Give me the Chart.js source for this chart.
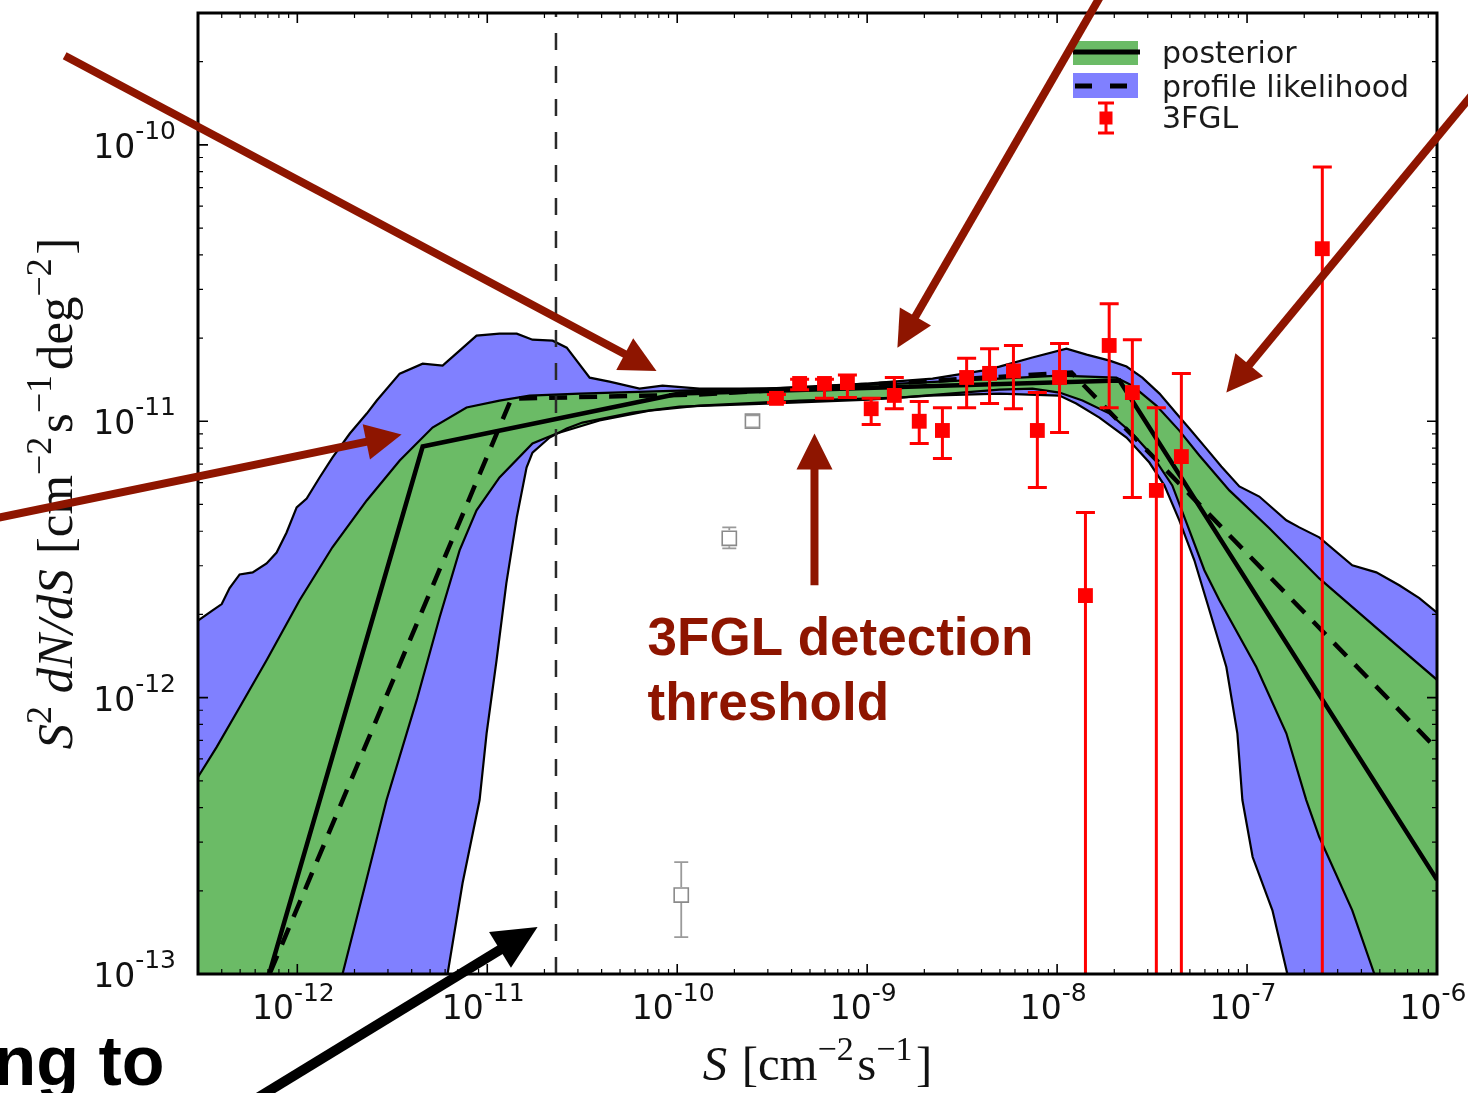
<!DOCTYPE html>
<html>
<head>
<meta charset="utf-8">
<script src="https://cdn.jsdelivr.net/npm/chart.js@4.4.1/dist/chart.umd.min.js"></script>
<style>
  html, body { margin: 0; padding: 0; background: #fff; }
  #chart { display: block; }
</style>
</head>
<body>
<canvas id="chart" width="1468" height="1093"></canvas>
<script>
// profile likelihood band (blue)
const profileUpperS = [3.0e-13, 3.58e-13, 4.00e-13, 4.40e-13, 4.97e-13, 5.82e-13, 6.89e-13, 7.78e-13, 8.78e-13, 9.92e-13,
    1.12e-12, 1.31e-12, 1.53e-12, 1.89e-12, 2.32e-12, 2.62e-12, 3.46e-12, 4.57e-12, 5.82e-12, 7.15e-12,
    8.78e-12, 1.16e-11, 1.43e-11, 1.73e-11, 2.21e-11, 2.62e-11, 3.46e-11, 4.40e-11, 6.33e-11, 8.37e-11,
    1.31e-10, 2.95e-10, 9.92e-10, 2.21e-9, 4.04e-9, 4.97e-9, 7.41e-9, 1.12e-8, 1.43e-8, 1.89e-8,
    2.32e-8, 2.81e-8, 3.46e-8, 4.25e-8, 4.97e-8, 6.11e-8, 7.32e-8, 9.11e-8, 1.16e-7, 1.61e-7,
    1.885e-7, 2.40e-7, 3.58e-7, 4.79e-7, 6.33e-7, 8.07e-7, 1.0e-6];
const profileUpperF = [1.90e-12, 2.07e-12, 2.18e-12, 2.49e-12, 2.79e-12, 2.84e-12, 3.06e-12, 3.35e-12, 3.96e-12, 4.88e-12,
    5.25e-12, 6.26e-12, 7.39e-12, 9.03e-12, 1.066e-11, 1.188e-11, 1.487e-11, 1.616e-11, 1.59e-11, 1.80e-11,
    2.04e-11, 2.075e-11, 2.075e-11, 1.973e-11, 1.957e-11, 1.846e-11, 1.438e-11, 1.391e-11, 1.313e-11, 1.346e-11,
    1.313e-11, 1.313e-11, 1.368e-11, 1.426e-11, 1.525e-11, 1.577e-11, 1.70e-11, 1.831e-11, 1.742e-11, 1.657e-11,
    1.577e-11, 1.438e-11, 1.259e-11, 1.066e-11, 9.41e-12, 7.96e-12, 6.86e-12, 5.81e-12, 5.34e-12, 4.38e-12,
    4.13e-12, 3.80e-12, 3.01e-12, 2.84e-12, 2.55e-12, 2.29e-12, 2.03e-12];
const profileLowerS = [3.0e-13, 5.34e-12, 6.18e-12, 7.41e-12, 9.11e-12, 9.92e-12, 1.119e-11, 1.26e-11, 1.43e-11, 1.61e-11,
    1.73e-11, 2.13e-11, 2.62e-11, 3.17e-11, 5.82e-11, 1.028e-10, 2.95e-10, 1.028e-9, 2.13e-9, 4.97e-9,
    1.028e-8, 1.26e-8, 1.67e-8, 2.32e-8, 3.06e-8, 3.67e-8, 4.40e-8, 5.28e-8, 6.11e-8, 6.89e-8,
    7.78e-8, 8.89e-8, 9.45e-8, 1.07e-7, 1.36e-7, 1.63e-7, 1.885e-7, 1.0e-6];
const profileLowerF = [1e-15, 5.78e-14, 1.0e-13, 2.13e-13, 4.26e-13, 7.43e-13, 1.365e-12, 2.59e-12, 4.49e-12, 6.80e-12,
    7.70e-12, 8.73e-12, 9.41e-12, 9.89e-12, 1.075e-11, 1.130e-11, 1.159e-11, 1.198e-11, 1.238e-11, 1.259e-11,
    1.238e-11, 1.159e-11, 1.031e-11, 8.73e-12, 7.09e-12, 5.86e-12, 4.38e-12, 3.14e-12, 2.25e-12, 1.71e-12,
    1.29e-12, 7.43e-13, 4.26e-13, 2.65e-13, 1.70e-13, 1.0e-13, 6.28e-14, 1e-15];

// posterior band (green)
const posteriorUpperS = [3.0e-13, 3.76e-13, 4.97e-13, 6.89e-13, 1.028e-12, 1.53e-12, 2.32e-12, 3.46e-12, 5.15e-12, 7.78e-12,
    1.16e-11, 1.67e-11, 3.06e-11, 1.028e-10, 4.41e-10, 1.48e-9, 4.97e-9, 1.028e-8, 2.05e-8, 2.49e-8,
    3.33e-8, 4.40e-8, 5.61e-8, 8.07e-8, 1.31e-7, 2.40e-7, 4.97e-7, 1.0e-6];
const posteriorUpperF = [5.16e-13, 6.62e-13, 9.23e-13, 1.365e-12, 2.25e-12, 3.50e-12, 5.17e-12, 7.21e-12, 9.49e-12, 1.121e-11,
    1.188e-11, 1.238e-11, 1.259e-11, 1.291e-11, 1.324e-11, 1.368e-11, 1.426e-11, 1.463e-11, 1.438e-11, 1.346e-11,
    1.139e-11, 9.25e-12, 7.52e-12, 5.62e-12, 4.10e-12, 2.70e-12, 1.75e-12, 1.16e-12];
const posteriorLowerS = [3.0e-13, 1.48e-12, 1.73e-12, 2.26e-12, 2.95e-12, 4.25e-12, 5.61e-12, 7.15e-12, 8.78e-12, 1.16e-11,
    1.73e-11, 2.32e-11, 3.90e-11, 7.15e-11, 1.31e-10, 4.41e-10, 1.48e-9, 4.97e-9, 7.41e-9, 1.028e-8,
    1.36e-8, 1.89e-8, 2.49e-8, 3.17e-8, 4.04e-8, 4.97e-8, 5.96e-8, 7.15e-8, 1.119e-7, 1.61e-7,
    2.05e-7, 2.40e-7, 3.58e-7, 4.68e-7, 5.61e-7, 1.0e-6];
const posteriorLowerF = [1e-15, 6.28e-14, 1.0e-13, 2.06e-13, 4.26e-13, 9.79e-13, 1.95e-12, 3.41e-12, 4.76e-12, 6.26e-12,
    8.31e-12, 9.03e-12, 1.006e-11, 1.093e-11, 1.139e-11, 1.188e-11, 1.218e-11, 1.302e-11, 1.313e-11, 1.27e-11,
    1.188e-11, 1.066e-11, 9.03e-12, 7.52e-12, 5.86e-12, 4.03e-12, 2.89e-12, 2.25e-12, 1.29e-12, 7.43e-13,
    4.26e-13, 3.13e-13, 1.70e-13, 1.0e-13, 6.83e-14, 1e-15];

// median (solid) and best fit (dashed) broken power laws
const posteriorMedianS = [6.49e-13, 4.57e-12, 1.028e-10, 2.13e-8, 1.0e-6];
const posteriorMedianF = [8.06e-14, 8.10e-12, 1.259e-11, 1.403e-11, 2.19e-13];
const profileBestS = [6.26e-13, 1.34e-11, 1.31e-10, 1.19e-8, 1.0e-6];
const profileBestF = [8.06e-14, 1.208e-11, 1.249e-11, 1.50e-11, 6.51e-13];

// 3FGL points
const fglS = [3.33e-10, 4.41e-10, 5.96e-10, 7.87e-10, 1.05e-9, 1.39e-9, 1.88e-9, 2.49e-9, 3.34e-9, 4.41e-9,
    5.89e-9, 7.87e-9, 1.03e-8, 1.41e-8, 1.88e-8, 2.49e-8, 3.33e-8, 4.51e-8, 2.49e-7];
const fglF = [1.21e-11, 1.37e-11, 1.37e-11, 1.38e-11, 1.11e-11, 1.24e-11, 1.0e-11, 9.26e-12, 1.44e-11, 1.49e-11,
    1.52e-11, 9.26e-12, 1.44e-11, 2.34e-12, 1.88e-11, 1.27e-11, 5.62e-12, 7.45e-12, 4.21e-11];
const fglLow = [1.17e-11, 1.30e-11, 1.21e-11, 1.22e-11, 9.73e-12, 1.11e-11, 8.31e-12, 7.33e-12, 1.12e-11, 1.16e-11,
    1.11e-11, 5.76e-12, 9.1e-12, 1e-15, 1.12e-11, 5.3e-12, 1e-15, 1e-15, 1e-15];
const fglHigh = [1.25e-11, 1.42e-11, 1.42e-11, 1.47e-11, 1.21e-11, 1.44e-11, 1.18e-11, 1.12e-11, 1.69e-11, 1.83e-11,
    1.88e-11, 1.27e-11, 1.91e-11, 4.68e-12, 2.66e-11, 1.97e-11, 1.12e-11, 1.49e-11, 8.32e-11];

// points below threshold (open grey)
const excludedS = [1.05e-10, 1.88e-10, 2.49e-10];
const excludedF = [1.93e-13, 3.77e-12, 1.0e-11];
const excludedLow = [1.36e-13, 3.47e-12, 9.5e-12];
const excludedHigh = [2.54e-13, 4.13e-12, 1.05e-11];

const thresholdS = 2.3e-11;

// axes
const xTickValues = [1e-12, 1e-11, 1e-10, 1e-9, 1e-8, 1e-7, 1e-6];
const xTickExps = ['-12', '-11', '-10', '-9', '-8', '-7', '-6'];
const yTickValues = [1e-13, 1e-12, 1e-11, 1e-10];
const yTickExps = ['-13', '-12', '-11', '-10'];

// annotation overlay, in data coordinates
const redArrows = [
    [[5.96e-14, 2.10e-10], [7.78e-11, 1.52e-11]],
    [[1.752e-8, 3.60e-10], [1.443e-9, 1.846e-11]],
    [[1.591e-6, 1.567e-10], [7.78e-8, 1.27e-11]],
    [[2.55e-14, 4.45e-12], [3.54e-12, 8.95e-12]],
    [[5.28e-10, 2.548e-12], [5.28e-10, 9.03e-12]]
];
const blackArrow = [[5.96e-13, 3.51e-14], [1.84e-11, 1.48e-13]];
const noteLines = ['3FGL detection', 'threshold'];
const noteAt = [[6.98e-11, 1.422e-12], [6.98e-11, 8.29e-13]];
const cutText = 'ng to';
const cutTextEnd = [2.0e-13, 3.97e-14];

const BLUE = '#8080ff';
const GREEN = '#6bbb66';
const DARK_RED = '#8e1500';

const zip = (xs, ys) => xs.map((x, i) => ({ x: x, y: ys[i] }));

function supLabel(ctx, exp, x, y, supDy, align) {
    ctx.font = '33px "DejaVu Sans"';
    const w1 = ctx.measureText('10').width;
    ctx.font = '25px "DejaVu Sans"';
    const w2 = ctx.measureText(exp).width;
    let left = x;
    if (align === 'center') left = x - (w1 + w2) / 2;
    if (align === 'right') left = x - (w1 + w2);
    ctx.textAlign = 'left';
    ctx.textBaseline = 'alphabetic';
    ctx.font = '33px "DejaVu Sans"';
    ctx.fillText('10', left, y);
    ctx.font = '25px "DejaVu Sans"';
    ctx.fillText(exp, left + w1, y + supDy);
}

// math-like label: runs of roman / italic / superscript text
function runFont(r, size) {
    const s = r.sup ? Math.round(size * 0.7) : size;
    return (r.it ? 'italic ' : '') + s + 'px "Liberation Serif"';
}
function runsWidth(ctx, runs, size) {
    let w = 0;
    for (const r of runs) {
        ctx.font = runFont(r, size);
        w += ctx.measureText(r.t).width + (r.gap || 0) * size / 40;
    }
    return w;
}
function drawRuns(ctx, runs, targetWidth) {
    const size = 40 * targetWidth / runsWidth(ctx, runs, 40);
    let x = -runsWidth(ctx, runs, size) / 2;
    ctx.textAlign = 'left';
    ctx.textBaseline = 'alphabetic';
    for (const r of runs) {
        x += (r.gap || 0) * size / 40;
        ctx.font = runFont(r, size);
        ctx.fillText(r.t, x, r.sup ? -size * 0.42 : 0);
        x += ctx.measureText(r.t).width;
    }
}

function arrow(ctx, x0, y0, x1, y1, color, lw, headLen, headHalf) {
    const ang = Math.atan2(y1 - y0, x1 - x0);
    const c = Math.cos(ang), s = Math.sin(ang);
    const bx = x1 - headLen * c, by = y1 - headLen * s;
    ctx.strokeStyle = color;
    ctx.fillStyle = color;
    ctx.lineWidth = lw;
    ctx.lineCap = 'butt';
    ctx.setLineDash([]);
    ctx.beginPath();
    ctx.moveTo(x0, y0);
    ctx.lineTo(bx + 2 * c, by + 2 * s);
    ctx.stroke();
    ctx.beginPath();
    ctx.moveTo(x1, y1);
    ctx.lineTo(bx + headHalf * s, by - headHalf * c);
    ctx.lineTo(bx - headHalf * s, by + headHalf * c);
    ctx.closePath();
    ctx.fill();
}

const overlay = {
    id: 'overlay',
    afterDatasetsDraw(chart) {
        const { ctx, chartArea: a } = chart;
        const xs = chart.scales.x, ys = chart.scales.y;
        ctx.save();
        ctx.beginPath();
        ctx.rect(a.left, a.top, a.right - a.left, a.bottom - a.top);
        ctx.clip();

        // grey error bars, broken around the open square
        ctx.strokeStyle = '#9a9a9a';
        ctx.lineWidth = 1.8;
        excludedS.forEach((s, i) => {
            const px = xs.getPixelForValue(s);
            const py = ys.getPixelForValue(excludedF[i]);
            const top = ys.getPixelForValue(excludedHigh[i]);
            const bot = ys.getPixelForValue(excludedLow[i]);
            ctx.beginPath();
            if (top < py - 8) { ctx.moveTo(px, top); ctx.lineTo(px, py - 8); }
            if (bot > py + 8) { ctx.moveTo(px, py + 8); ctx.lineTo(px, bot); }
            ctx.moveTo(px - 7, top); ctx.lineTo(px + 7, top);
            ctx.moveTo(px - 7, bot); ctx.lineTo(px + 7, bot);
            ctx.stroke();
        });

        // 3FGL error bars
        ctx.strokeStyle = '#ff0000';
        ctx.lineWidth = 3;
        fglS.forEach((s, i) => {
            const px = xs.getPixelForValue(s);
            const top = ys.getPixelForValue(fglHigh[i]);
            const bot = ys.getPixelForValue(fglLow[i]);
            ctx.beginPath();
            ctx.moveTo(px, top); ctx.lineTo(px, bot);
            ctx.moveTo(px - 9.5, top); ctx.lineTo(px + 9.5, top);
            ctx.moveTo(px - 9.5, bot); ctx.lineTo(px + 9.5, bot);
            ctx.stroke();
        });
        ctx.restore();
    },
    afterDraw(chart) {
        const { ctx, chartArea: a } = chart;
        const xs = chart.scales.x, ys = chart.scales.y;
        ctx.save();

        // ticks (inside, all four sides)
        ctx.strokeStyle = '#000';
        for (let e = -13; e <= -6; e++) {
            for (let k = 1; k <= 9; k++) {
                const v = k * Math.pow(10, e);
                if (v <= xs.min * 1.0001 || v >= xs.max * 0.9999) continue;
                const px = xs.getPixelForValue(v);
                const len = k === 1 ? 10 : 5;
                ctx.lineWidth = k === 1 ? 1.6 : 1.2;
                ctx.beginPath();
                ctx.moveTo(px, a.bottom); ctx.lineTo(px, a.bottom - len);
                ctx.moveTo(px, a.top); ctx.lineTo(px, a.top + len);
                ctx.stroke();
            }
        }
        for (let e = -13; e <= -10; e++) {
            for (let k = 1; k <= 9; k++) {
                const v = k * Math.pow(10, e);
                if (v <= ys.min * 1.0001 || v >= ys.max * 0.9999) continue;
                const py = ys.getPixelForValue(v);
                const len = k === 1 ? 10 : 5;
                ctx.lineWidth = k === 1 ? 1.6 : 1.2;
                ctx.beginPath();
                ctx.moveTo(a.left, py); ctx.lineTo(a.left + len, py);
                ctx.moveTo(a.right, py); ctx.lineTo(a.right - len, py);
                ctx.stroke();
            }
        }
        // frame
        ctx.lineWidth = 3;
        ctx.strokeRect(a.left, a.top, a.right - a.left, a.bottom - a.top);

        // tick labels
        ctx.fillStyle = '#111';
        xTickValues.forEach((v, i) => {
            supLabel(ctx, xTickExps[i], xs.getPixelForValue(v) - 4, a.bottom + 45, -18, 'center');
        });
        yTickValues.forEach((v, i) => {
            supLabel(ctx, yTickExps[i], a.left - 22, ys.getPixelForValue(v) + 13, -19, 'right');
        });

        // axis titles
        ctx.fillStyle = '#111';
        ctx.save();
        ctx.translate((a.left + a.right) / 2, 1080);
        drawRuns(ctx, [
            { t: 'S', it: true }, { t: '[cm', gap: 12 }, { t: '\u22122', sup: true },
            { t: 's', gap: 3 }, { t: '\u22121', sup: true }, { t: ']', gap: 3 }
        ], 230);
        ctx.restore();
        ctx.save();
        ctx.translate(72, (a.top + a.bottom) / 2);
        ctx.rotate(-Math.PI / 2);
        drawRuns(ctx, [
            { t: 'S', it: true }, { t: '2', sup: true }, { t: 'dN/dS', it: true, gap: 10 },
            { t: '[cm', gap: 12 }, { t: '\u22122', sup: true }, { t: 's', gap: 3 },
            { t: '\u22121', sup: true }, { t: 'deg', gap: 4 }, { t: '\u22122', sup: true }, { t: ']', gap: 3 }
        ], 510);
        ctx.restore();

        // legend
        const lx = a.right - 364, ly = a.top;
        ctx.fillStyle = GREEN;
        ctx.fillRect(lx, ly + 28, 65, 24);
        ctx.fillStyle = BLUE;
        ctx.fillRect(lx, ly + 60, 65, 25);
        ctx.strokeStyle = '#000';
        ctx.lineWidth = 5;
        ctx.beginPath();
        ctx.moveTo(lx, ly + 39); ctx.lineTo(lx + 67, ly + 39);
        ctx.moveTo(lx + 2, ly + 73); ctx.lineTo(lx + 19, ly + 73);
        ctx.moveTo(lx + 37, ly + 73); ctx.lineTo(lx + 54, ly + 73);
        ctx.stroke();
        ctx.strokeStyle = '#ff0000';
        ctx.lineWidth = 3;
        ctx.beginPath();
        ctx.moveTo(lx + 33, ly + 90); ctx.lineTo(lx + 33, ly + 120);
        ctx.moveTo(lx + 25, ly + 90); ctx.lineTo(lx + 41, ly + 90);
        ctx.moveTo(lx + 25, ly + 120); ctx.lineTo(lx + 41, ly + 120);
        ctx.stroke();
        ctx.fillStyle = '#ff0000';
        ctx.fillRect(lx + 26.5, ly + 98.5, 13, 13);
        ctx.fillStyle = '#1a1a1a';
        ctx.font = '30px "DejaVu Sans"';
        ctx.textAlign = 'left';
        ctx.textBaseline = 'alphabetic';
        ctx.fillText('posterior', lx + 89, ly + 50);
        ctx.fillText('profile likelihood', lx + 89, ly + 84);
        ctx.fillText('3FGL', lx + 89, ly + 115);

        // annotations
        const P = (p) => [xs.getPixelForValue(p[0]), ys.getPixelForValue(p[1])];
        for (const [from, to] of redArrows) {
            const f = P(from), t = P(to);
            arrow(ctx, f[0], f[1], t[0], t[1], DARK_RED, 8, 36, 18);
        }
        const bf = P(blackArrow[0]), bt = P(blackArrow[1]);
        arrow(ctx, bf[0], bf[1], bt[0], bt[1], '#000', 10, 44, 21);

        ctx.fillStyle = DARK_RED;
        ctx.font = 'bold 53px "Liberation Sans"';
        ctx.textAlign = 'left';
        noteLines.forEach((line, i) => {
            const p = P(noteAt[i]);
            ctx.fillText(line, p[0], p[1]);
        });
        ctx.fillStyle = '#000';
        ctx.font = 'bold 70px "Liberation Sans"';
        ctx.textAlign = 'right';
        const ce = P(cutTextEnd);
        ctx.fillText(cutText, ce[0], ce[1]);

        ctx.restore();
    }
};

const lineDefaults = { pointRadius: 0, borderColor: '#000', borderWidth: 2.2, tension: 0, clip: 0 };

new Chart(document.getElementById('chart'), {
    type: 'line',
    data: {
        datasets: [
            Object.assign({ label: 'profile upper', data: zip(profileUpperS, profileUpperF), fill: false, order: 10 }, lineDefaults),
            Object.assign({ label: 'profile likelihood', data: zip(profileLowerS, profileLowerF), fill: '-1', backgroundColor: BLUE, order: 9 }, lineDefaults),
            Object.assign({ label: 'posterior upper', data: zip(posteriorUpperS, posteriorUpperF), fill: false, order: 8 }, lineDefaults),
            Object.assign({ label: 'posterior', data: zip(posteriorLowerS, posteriorLowerF), fill: '-1', backgroundColor: GREEN, order: 7 }, lineDefaults),
            Object.assign({}, lineDefaults, { label: 'profile best fit', data: zip(profileBestS, profileBestF), fill: false, borderWidth: 4.5, borderDash: [18, 12], order: 5 }),
            Object.assign({}, lineDefaults, { label: 'posterior median', data: zip(posteriorMedianS, posteriorMedianF), fill: false, borderWidth: 4.5, order: 4 }),
            Object.assign({}, lineDefaults, { label: 'threshold', data: [{ x: thresholdS, y: 1e-13 }, { x: thresholdS, y: 3e-10 }], fill: false, borderColor: '#2a2a2a', borderWidth: 2.5, borderDash: [17, 16], order: 3 }),
            { label: '3FGL', data: zip(fglS, fglF), showLine: false, pointStyle: 'rect', pointRadius: 10.5, backgroundColor: '#ff0000', borderColor: '#ff0000', borderWidth: 0, order: 2, clip: 0 },
            { label: 'excluded', data: zip(excludedS, excludedF), showLine: false, pointStyle: 'rect', pointRadius: 10, backgroundColor: 'rgba(255,255,255,0)', borderColor: '#8a8a8a', borderWidth: 1.6, order: 1, clip: 0 }
        ]
    },
    options: {
        responsive: false,
        animation: false,
        events: [],
        layout: { padding: { top: 13, right: 31, left: 0, bottom: 0 } },
        scales: {
            x: {
                type: 'logarithmic', min: 3e-13, max: 1e-6, bounds: 'data',
                ticks: { display: false }, grid: { display: false }, border: { display: false },
                afterFit(s) { s.height = 119; }
            },
            y: {
                type: 'logarithmic', min: 1e-13, max: 3e-10, bounds: 'data',
                ticks: { display: false }, grid: { display: false }, border: { display: false },
                afterFit(s) { s.width = 198; }
            }
        },
        plugins: {
            legend: { display: false },
            tooltip: { enabled: false },
            filler: { drawTime: 'beforeDatasetsDraw' }
        }
    },
    plugins: [overlay]
});
</script>
</body>
</html>
